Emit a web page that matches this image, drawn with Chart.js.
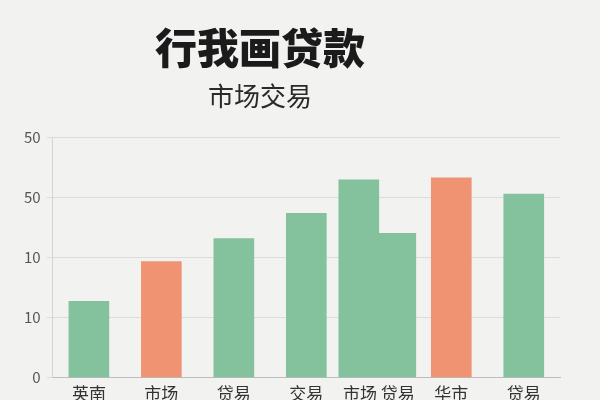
<!DOCTYPE html>
<html>
<head>
<meta charset="utf-8">
<script src="https://cdn.jsdelivr.net/npm/chart.js@4"></script>
<style>
    html, body { margin: 0; padding: 0; background: #f2f2f0; }
    #wrap { width: 600px; height: 400px; position: relative; }
    .head {
        position: absolute; left: 0; width: 520px; text-align: center;
        font-family: "Noto Sans CJK SC", "Noto Sans", sans-serif; line-height: 1;
    }
    #title { top: 25px; font-size: 42px; font-weight: 900; color: #1b1b1b; }
    #subtitle { top: 82px; font-size: 26px; color: #2a2a2a; }
</style>
</head>
<body>
<div id="wrap">
    <canvas id="barChart"></canvas>
    <div class="head" id="title">行我画贷款</div>
    <div class="head" id="subtitle">市场交易</div>
</div>
<script>
const categories = ['英南', '市场', '贷易', '交易', '市场 贷易', '华市', '贷易'];
const mainValues = [1.27, 1.93, 2.31, 2.73, 3.29, 3.32, 3.05];
const pairValues = [null, null, null, null, 2.40, null, null];
const barKinds = ['green', 'orange', 'green', 'green', 'green', 'orange', 'green'];
const yTickLabels = ['0', '10', '10', '50', '50'];

const GREEN = '#84c19d';
const ORANGE = '#ef9373';

const font = '"Noto Sans CJK SC", "Noto Sans", sans-serif';

new Chart(document.getElementById('barChart'), {
    type: 'bar',
    data: {
        labels: categories,
        datasets: [{
            data: mainValues,
            backgroundColor: barKinds.map(k => k === 'orange' ? ORANGE : GREEN),
            barThickness: 40
        }, {
            data: pairValues,
            backgroundColor: GREEN,
            barThickness: 37
        }]
    },
    options: {
        responsive: true,
        maintainAspectRatio: false,
        animation: false,
        skipNull: true,
        layout: { padding: { top: 137, left: 18, right: 40, bottom: -10 } },
        plugins: {
            legend: { display: false },
            tooltip: { enabled: false }
        },
        scales: {
            x: {
                grid: { display: false, drawTicks: false },
                border: { color: '#bdbdbd' },
                ticks: {
                    color: '#333',
                    padding: 6,
                    autoSkip: false,
                    maxRotation: 0,
                    minRotation: 0,
                    font: { family: font, size: 17 }
                }
            },
            y: {
                min: 0,
                max: 4,
                grid: { color: '#dcdcdc', drawTicks: true, tickLength: 6 },
                border: { color: '#d4d4d4' },
                ticks: {
                    stepSize: 1,
                    color: '#555',
                    padding: 6,
                    font: { family: font, size: 15 },
                    callback: value => yTickLabels[value]
                }
            }
        }
    }
});
</script>
</body>
</html>
